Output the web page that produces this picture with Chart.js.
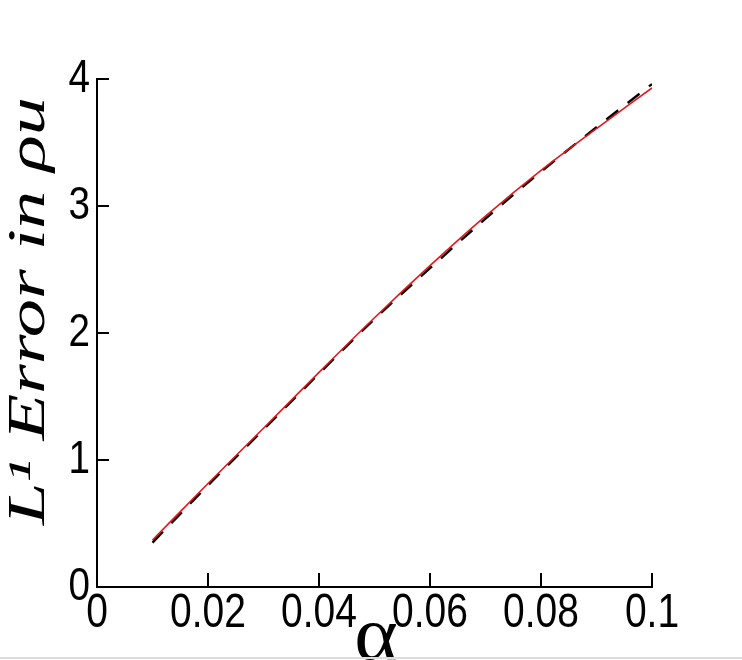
<!DOCTYPE html>
<html>
<head>
<meta charset="utf-8">
<script src="https://cdn.jsdelivr.net/npm/chart.js@4/dist/chart.umd.min.js"></script>
<style>
  html, body { margin: 0; padding: 0; background: #fff; }
  #wrap { position: relative; width: 742px; height: 660px; }
  #bar { position: absolute; left: 0; top: 657px; width: 742px; height: 2px; background: #dcdcdc; }
</style>
</head>
<body>
<div id="wrap">
  <canvas id="c" width="742" height="660"></canvas>
  <div id="bar"></div>
</div>
<script>
// ---- data ----
const alphaValues = [0.01, 0.02, 0.03, 0.04, 0.05, 0.06, 0.07, 0.08, 0.09, 0.10];
const errorRed    = [0.37, 0.815, 1.25, 1.69, 2.12, 2.53, 2.92, 3.28, 3.61, 3.93];
const errorBlack  = [0.35, 0.80, 1.24, 1.68, 2.11, 2.51, 2.90, 3.27, 3.62, 3.96];
const xTickValues = [0, 0.02, 0.04, 0.06, 0.08, 0.1];
const xTickLabels = ['0', '0.02', '0.04', '0.06', '0.08', '0.1'];
const yTickValues = [0, 1, 2, 3, 4];
const yTickLabels = ['0', '1', '2', '3', '4'];
const xTitle = 'α';
const yTitle = 'L¹ Error in ρu';

const sansFamily = "'Liberation Sans', Arial, sans-serif";

// tick marks pointing into the plot
const inwardTicks = {
  id: 'inwardTicks',
  afterDraw(chart) {
    const ctx = chart.ctx, xs = chart.scales.x, ys = chart.scales.y;
    ctx.save();
    ctx.strokeStyle = '#000';
    ctx.lineWidth = 2;
    ctx.beginPath();
    xTickValues.forEach(v => {
      const px = Math.round(xs.getPixelForValue(v));
      ctx.moveTo(px, ys.bottom);
      ctx.lineTo(px, ys.bottom - 14);
    });
    yTickValues.forEach(v => {
      const py = Math.round(ys.getPixelForValue(v));
      ctx.moveTo(xs.left, py);
      ctx.lineTo(xs.left + 12, py);
    });
    ctx.stroke();
    ctx.restore();
  }
};

// the reference uses tall, narrow tick lettering: stretch the library's own labels
const narrowTickLabels = {
  id: 'narrowTickLabels',
  afterLayout(chart) {
    const xs = chart.scales.x, ys = chart.scales.y;
    if (!xs._narrowWrapped) {
      const orig = xs.drawLabels;
      xs.drawLabels = function (area) {
        const ctx = this.ctx, y0 = this.top;
        ctx.save();
        ctx.translate(0, y0); ctx.scale(1, 1.25); ctx.translate(0, -y0);
        orig.call(this, area);
        ctx.restore();
      };
      xs._narrowWrapped = true;
    }
    if (!ys._narrowWrapped) {
      const orig = ys.drawLabels;
      ys.drawLabels = function (area) {
        const ctx = this.ctx, x0 = this.right - 7;
        ctx.save();
        ctx.translate(x0, 0); ctx.scale(0.84, 1); ctx.translate(-x0, 0);
        orig.call(this, area);
        ctx.restore();
      };
      ys._narrowWrapped = true;
    }
  }
};

const stretchedTitles = {
  id: 'stretchedTitles',
  afterDraw(chart) {
    const ctx = chart.ctx;
    ctx.save();
    ctx.fillStyle = '#000';
    ctx.font = "italic 52px 'Liberation Serif', 'Times New Roman', serif";
    ctx.textBaseline = 'alphabetic';
    ctx.textAlign = 'center';
    const w = ctx.measureText(yTitle).width;
    const targetLen = 428;
    ctx.translate(44, 311);
    ctx.rotate(-Math.PI / 2);
    ctx.scale(targetLen / w, 1);
    ctx.fillText(yTitle, 0, 0);
    ctx.restore();

    ctx.save();
    ctx.fillStyle = '#000';
    ctx.font = "64px 'Liberation Serif', 'Times New Roman', serif";
    ctx.textAlign = 'center';
    ctx.textBaseline = 'alphabetic';
    ctx.translate(376, 659);
    ctx.scale(1.3, 1.2);
    ctx.fillText(xTitle, 0, 0);
    ctx.restore();
  }
};

new Chart(document.getElementById('c'), {
  type: 'line',
  data: {
    datasets: [
      {
        label: 'red',
        data: alphaValues.map((x, i) => ({ x, y: errorRed[i] })),
        borderColor: '#e8141c',
        borderWidth: 1.6,
        pointRadius: 0,
        cubicInterpolationMode: 'monotone',
        order: 1
      },
      {
        label: 'black',
        data: alphaValues.map((x, i) => ({ x, y: errorBlack[i] })),
        borderColor: '#000',
        borderWidth: 2.4,
        borderDash: [15, 12],
        pointRadius: 0,
        cubicInterpolationMode: 'monotone',
        order: 2
      }
    ]
  },
  options: {
    responsive: false,
    animation: false,
    events: [],
    layout: { padding: { left: 0, right: 90, top: 79, bottom: 0 }, autoPadding: false },
    plugins: { legend: { display: false }, tooltip: { enabled: false }, title: { display: false } },
    scales: {
      x: {
        type: 'linear',
        min: 0, max: 0.1,
        afterFit(s) { s.height = 73; },
        afterBuildTicks(s) { s.ticks = xTickValues.map(v => ({ value: v })); },
        ticks: {
          color: '#000',
          font: { family: sansFamily, size: 39 },
          padding: -2,
          maxRotation: 0,
          autoSkip: false,
          callback: (v, i) => xTickLabels[i]
        },
        grid: { display: false, drawTicks: false },
        border: { display: true, color: '#000', width: 2 }
      },
      y: {
        type: 'linear',
        min: 0, max: 4,
        afterFit(s) { s.width = 97; },
        afterBuildTicks(s) { s.ticks = yTickValues.map(v => ({ value: v })); },
        ticks: {
          color: '#000',
          font: { family: sansFamily, size: 46 },
          padding: 7,
          autoSkip: false,
          callback: (v, i) => yTickLabels[i]
        },
        grid: { display: false, drawTicks: false },
        border: { display: true, color: '#000', width: 2 }
      }
    }
  },
  plugins: [inwardTicks, narrowTickLabels, stretchedTitles]
});
</script>
</body>
</html>
